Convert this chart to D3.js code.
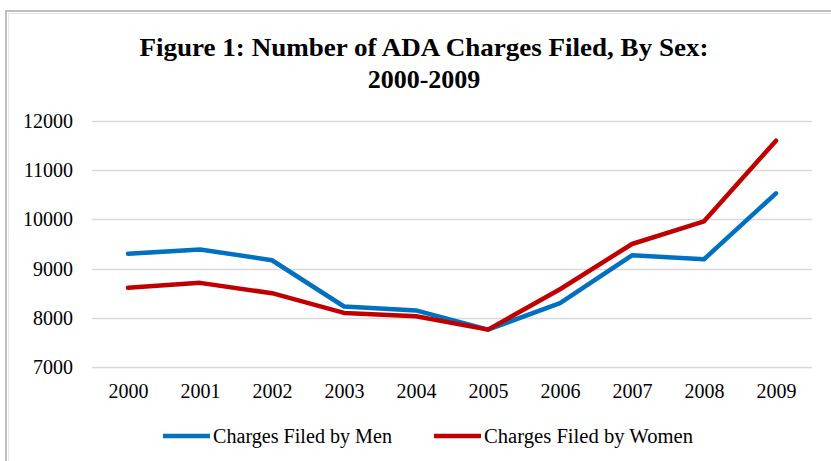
<!DOCTYPE html>
<html>
<head>
<meta charset="utf-8">
<script src="https://cdn.jsdelivr.net/npm/d3@7"></script>
<style>
  body { margin: 0; background: #fff; }
  svg text { font-family: "Liberation Serif", "Times New Roman", serif !important; fill: #000; }
</style>
</head>
<body>
<script>
// chart data
var years = ["2000", "2001", "2002", "2003", "2004", "2005", "2006", "2007", "2008", "2009"];
var men = [9300, 9390, 9170, 8230, 8150, 7760, 8300, 9270, 9190, 10530];
var women = [8610, 8710, 8500, 8100, 8030, 7760, 8580, 9500, 9960, 11600];
var yTicks = [7000, 8000, 9000, 10000, 11000, 12000];
var seriesNames = ["Charges Filed by Men", "Charges Filed by Women"];
var colors = ["#0070C0", "#C00000"];

var W = 831, H = 461;

var svg = d3.select("body").append("svg")
    .attr("width", W)
    .attr("height", H);

// frame (double grey line on top and left)
svg.append("line").attr("x1", 5).attr("x2", W).attr("y1", 11).attr("y2", 11)
    .style("stroke", "#bfbfbf").style("stroke-width", 2);
svg.append("line").attr("x1", 8).attr("x2", W).attr("y1", 13.5).attr("y2", 13.5)
    .style("stroke", "#e6e6e6").style("stroke-width", 1);
svg.append("line").attr("x1", 6).attr("x2", 6).attr("y1", 10).attr("y2", H)
    .style("stroke", "#bfbfbf").style("stroke-width", 2);
svg.append("line").attr("x1", 8.5).attr("x2", 8.5).attr("y1", 13).attr("y2", H)
    .style("stroke", "#e6e6e6").style("stroke-width", 1);

// title
svg.append("text")
    .attr("x", 424).attr("y", 56)
    .attr("text-anchor", "middle")
    .attr("textLength", 569).attr("lengthAdjust", "spacingAndGlyphs")
    .style("font-size", "26px").style("font-weight", "bold")
    .text("Figure 1: Number of ADA Charges Filed, By Sex:");
svg.append("text")
    .attr("x", 424).attr("y", 88)
    .attr("text-anchor", "middle")
    .style("font-size", "26px").style("font-weight", "bold")
    .text("2000-2009");

// scales
var x = d3.scalePoint()
    .domain(years)
    .range([92, 812])
    .padding(0.5);

var y = d3.scaleLinear()
    .domain([7000, 12000])
    .range([367, 121]);

// gridlines
svg.append("g")
    .selectAll("line")
    .data(yTicks)
    .join("line")
    .attr("x1", 92).attr("x2", 812)
    .attr("y1", d => Math.round(y(d)) + 0.5)
    .attr("y2", d => Math.round(y(d)) + 0.5)
    .style("stroke", "#d9d9d9")
    .style("stroke-width", 1.5);

// y axis labels
var yAxis = svg.append("g")
    .attr("transform", "translate(92,0)")
    .call(d3.axisLeft(y).tickValues(yTicks).tickSize(0).tickPadding(19).tickFormat(d3.format("d")))
    .attr("font-family", null)
    .attr("font-size", null);
yAxis.select(".domain").remove();
yAxis.selectAll("text")
    .style("font-size", "20px");

// x axis labels
var xAxis = svg.append("g")
    .attr("transform", "translate(0,380)")
    .call(d3.axisBottom(x).tickSize(0).tickPadding(4))
    .attr("font-family", null)
    .attr("font-size", null);
xAxis.select(".domain").remove();
xAxis.selectAll("text")
    .style("font-size", "20px");

// lines
var line = d3.line()
    .x((d, i) => x(years[i]))
    .y(d => y(d));

[men, women].forEach(function(series, i) {
    svg.append("path")
        .datum(series)
        .attr("d", line)
        .style("fill", "none")
        .style("stroke", colors[i])
        .style("stroke-width", 4.5)
        .style("stroke-linejoin", "round")
        .style("stroke-linecap", "round");
});

// legend
var legendX = [163, 434];
var legendW = [179, 209];
seriesNames.forEach(function(name, i) {
    var g = svg.append("g").attr("transform", "translate(" + legendX[i] + ",436)");
    g.append("line")
        .attr("x1", 0).attr("x2", 47)
        .style("stroke", colors[i])
        .style("stroke-width", 4.5);
    g.append("text")
        .attr("x", 50).attr("y", 7)
        .attr("textLength", legendW[i]).attr("lengthAdjust", "spacingAndGlyphs")
        .style("font-size", "20px")
        .text(name);
});
</script>
</body>
</html>
